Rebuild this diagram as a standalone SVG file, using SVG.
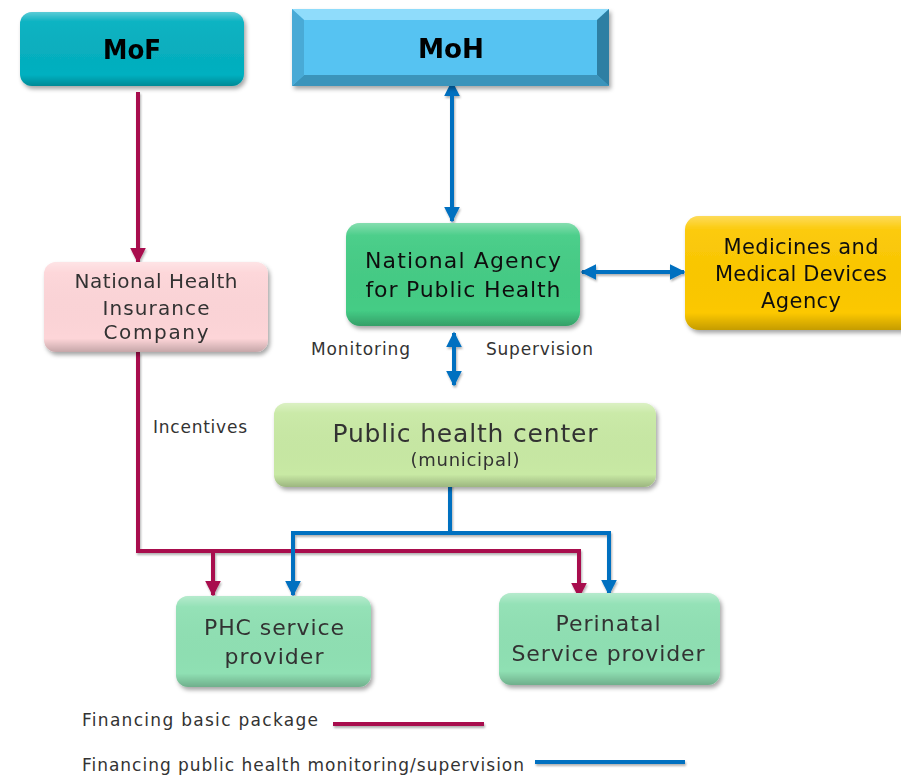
<svg xmlns="http://www.w3.org/2000/svg" width="901" height="776" viewBox="0 0 901 776">
<defs>
<style>
.t{font-family:"DejaVu Sans","Noto Sans",sans-serif;fill:#333;text-anchor:middle}
.b{font-family:"DejaVu Sans","Liberation Sans",sans-serif;font-weight:bold;fill:#000;text-anchor:middle;font-size:26px}
.lbl{font-family:"DejaVu Sans","Noto Sans",sans-serif;fill:#333;font-size:17px}
.red{stroke:#a8104e;stroke-width:4;fill:none}
.blue{stroke:#0070c0;stroke-width:4;fill:none}
.node{filter:url(#sh)}
</style>
<filter id="sh" x="-10%" y="-10%" width="125%" height="135%">
<feDropShadow dx="2" dy="3" stdDeviation="2" flood-color="#000" flood-opacity="0.35"/>
</filter>
<filter id="lsh" filterUnits="userSpaceOnUse" x="0" y="0" width="901" height="776">
<feDropShadow dx="1" dy="2" stdDeviation="1.2" flood-color="#000" flood-opacity="0.3"/>
</filter>
<linearGradient id="gloss" x1="0" y1="0" x2="0" y2="1">
<stop offset="0" stop-color="#fff" stop-opacity="0.35"/>
<stop offset="0.12" stop-color="#fff" stop-opacity="0.05"/>
<stop offset="0.85" stop-color="#000" stop-opacity="0"/>
<stop offset="1" stop-color="#000" stop-opacity="0.22"/>
</linearGradient>
<marker id="ar" viewBox="0 0 10 10" refX="9" refY="5" markerWidth="4" markerHeight="4" orient="auto-start-reverse" markerUnits="strokeWidth">
<path d="M0,0 L10,5 L0,10 Z" fill="#a8104e"/>
</marker>
<marker id="ab" viewBox="0 0 10 10" refX="9" refY="5" markerWidth="4" markerHeight="4" orient="auto-start-reverse" markerUnits="strokeWidth">
<path d="M0,0 L10,5 L0,10 Z" fill="#0070c0"/>
</marker>
</defs>
<rect width="901" height="776" fill="#fff"/>

<g id="connectors" filter="url(#lsh)">
<path class="red" d="M138,92 V262" marker-end="url(#ar)"/>
<path class="red" d="M138,352 V551 H579 V597" marker-end="url(#ar)"/>
<path class="red" d="M213,551 V595" marker-end="url(#ar)"/>
<path class="blue" d="M450,482 V533 H609 V594" marker-end="url(#ab)"/>
<path class="blue" d="M450,533 H293 V595" marker-end="url(#ab)"/>
<path class="blue" d="M452,82 V221" marker-start="url(#ab)" marker-end="url(#ab)"/>
<path class="blue" d="M582,272 H684" marker-start="url(#ab)" marker-end="url(#ab)"/>
<path class="blue" d="M454,333 V385" marker-start="url(#ab)" marker-end="url(#ab)"/>
</g>

<g id="MoF" class="node">
<rect x="20" y="12" width="224" height="74" rx="12" fill="#05b0c0"/>
<rect x="20" y="12" width="224" height="74" rx="12" fill="url(#gloss)"/>
<text class="b" x="132" y="59" textLength="58" lengthAdjust="spacingAndGlyphs">MoF</text>
</g>

<g id="MoH" class="node">
<rect x="292" y="9" width="317" height="77" fill="#57c3f2"/>
<polygon points="292,9 609,9 597,20 304,20" fill="#8fdcfb"/>
<polygon points="292,86 609,86 597,75 304,75" fill="#3a94bb"/>
<polygon points="292,9 304,20 304,75 292,86" fill="#4aaad6"/>
<polygon points="609,9 597,20 597,75 609,86" fill="#2f7fa3"/>
<text class="b" x="451" y="58" textLength="66" lengthAdjust="spacingAndGlyphs">MoH</text>
</g>

<g id="NHIC" class="node">
<rect x="44" y="262" width="224" height="90" rx="12" fill="#fdd5d8"/>
<rect x="44" y="262" width="224" height="90" rx="12" fill="url(#gloss)"/>
<text class="t" font-size="20" x="156" y="288" textLength="163">National Health</text>
<text class="t" font-size="20" x="156" y="315" textLength="107">Insurance</text>
<text class="t" font-size="20" x="156" y="339" textLength="105">Company</text>
</g>

<g id="NAPH" class="node">
<rect x="346" y="223" width="234" height="103" rx="14" fill="#44cc85"/>
<rect x="346" y="223" width="234" height="103" rx="14" fill="url(#gloss)"/>
<text class="t" font-size="22" style="fill:#111" x="463" y="268" textLength="196">National Agency</text>
<text class="t" font-size="22" style="fill:#111" x="463" y="297" textLength="195">for Public Health</text>
</g>

<g id="MMDA" class="node">
<rect x="685" y="216" width="230" height="114" rx="14" fill="#fcc800"/>
<rect x="685" y="216" width="230" height="114" rx="14" fill="url(#gloss)"/>
<text class="t" font-size="21" style="fill:#111" x="801" y="254" textLength="155">Medicines and</text>
<text class="t" font-size="21" style="fill:#111" x="801" y="281" textLength="172">Medical Devices</text>
<text class="t" font-size="21" style="fill:#111" x="801" y="308" textLength="80">Agency</text>
</g>

<g id="PHCenter" class="node">
<rect x="274" y="403" width="382" height="84" rx="12" fill="#c8e9a4"/>
<rect x="274" y="403" width="382" height="84" rx="12" fill="url(#gloss)"/>
<text class="t" font-size="25" x="465" y="442" textLength="265">Public health center</text>
<text class="t" font-size="18" x="465" y="466" textLength="109">(municipal)</text>
</g>

<g id="PHCProvider" class="node">
<rect x="176" y="596" width="195" height="91" rx="12" fill="#8fe0b3"/>
<rect x="176" y="596" width="195" height="91" rx="12" fill="url(#gloss)"/>
<text class="t" font-size="22" x="274" y="635" textLength="140">PHC service</text>
<text class="t" font-size="22" x="274" y="664" textLength="99">provider</text>
</g>

<g id="Perinatal" class="node">
<rect x="499" y="593" width="221" height="92" rx="12" fill="#8fe0b3"/>
<rect x="499" y="593" width="221" height="92" rx="12" fill="url(#gloss)"/>
<text class="t" font-size="22" x="608" y="631" textLength="105">Perinatal</text>
<text class="t" font-size="22" x="608" y="661" textLength="193">Service provider</text>
</g>

<g id="labels">
<text class="lbl" x="311" y="355" textLength="99">Monitoring</text>
<text class="lbl" x="486" y="355" textLength="107">Supervision</text>
<text class="lbl" x="153" y="433" textLength="94">Incentives</text>
</g>

<g id="legend">
<text class="lbl" x="82" y="726" textLength="236">Financing basic package</text>
<text class="lbl" x="82" y="771" textLength="442">Financing public health monitoring/supervision</text>
<g filter="url(#lsh)">
<line x1="333" y1="724" x2="484" y2="724" class="red"/>
<line x1="535" y1="762" x2="685" y2="762" class="blue"/>
</g>
</g>
</svg>
